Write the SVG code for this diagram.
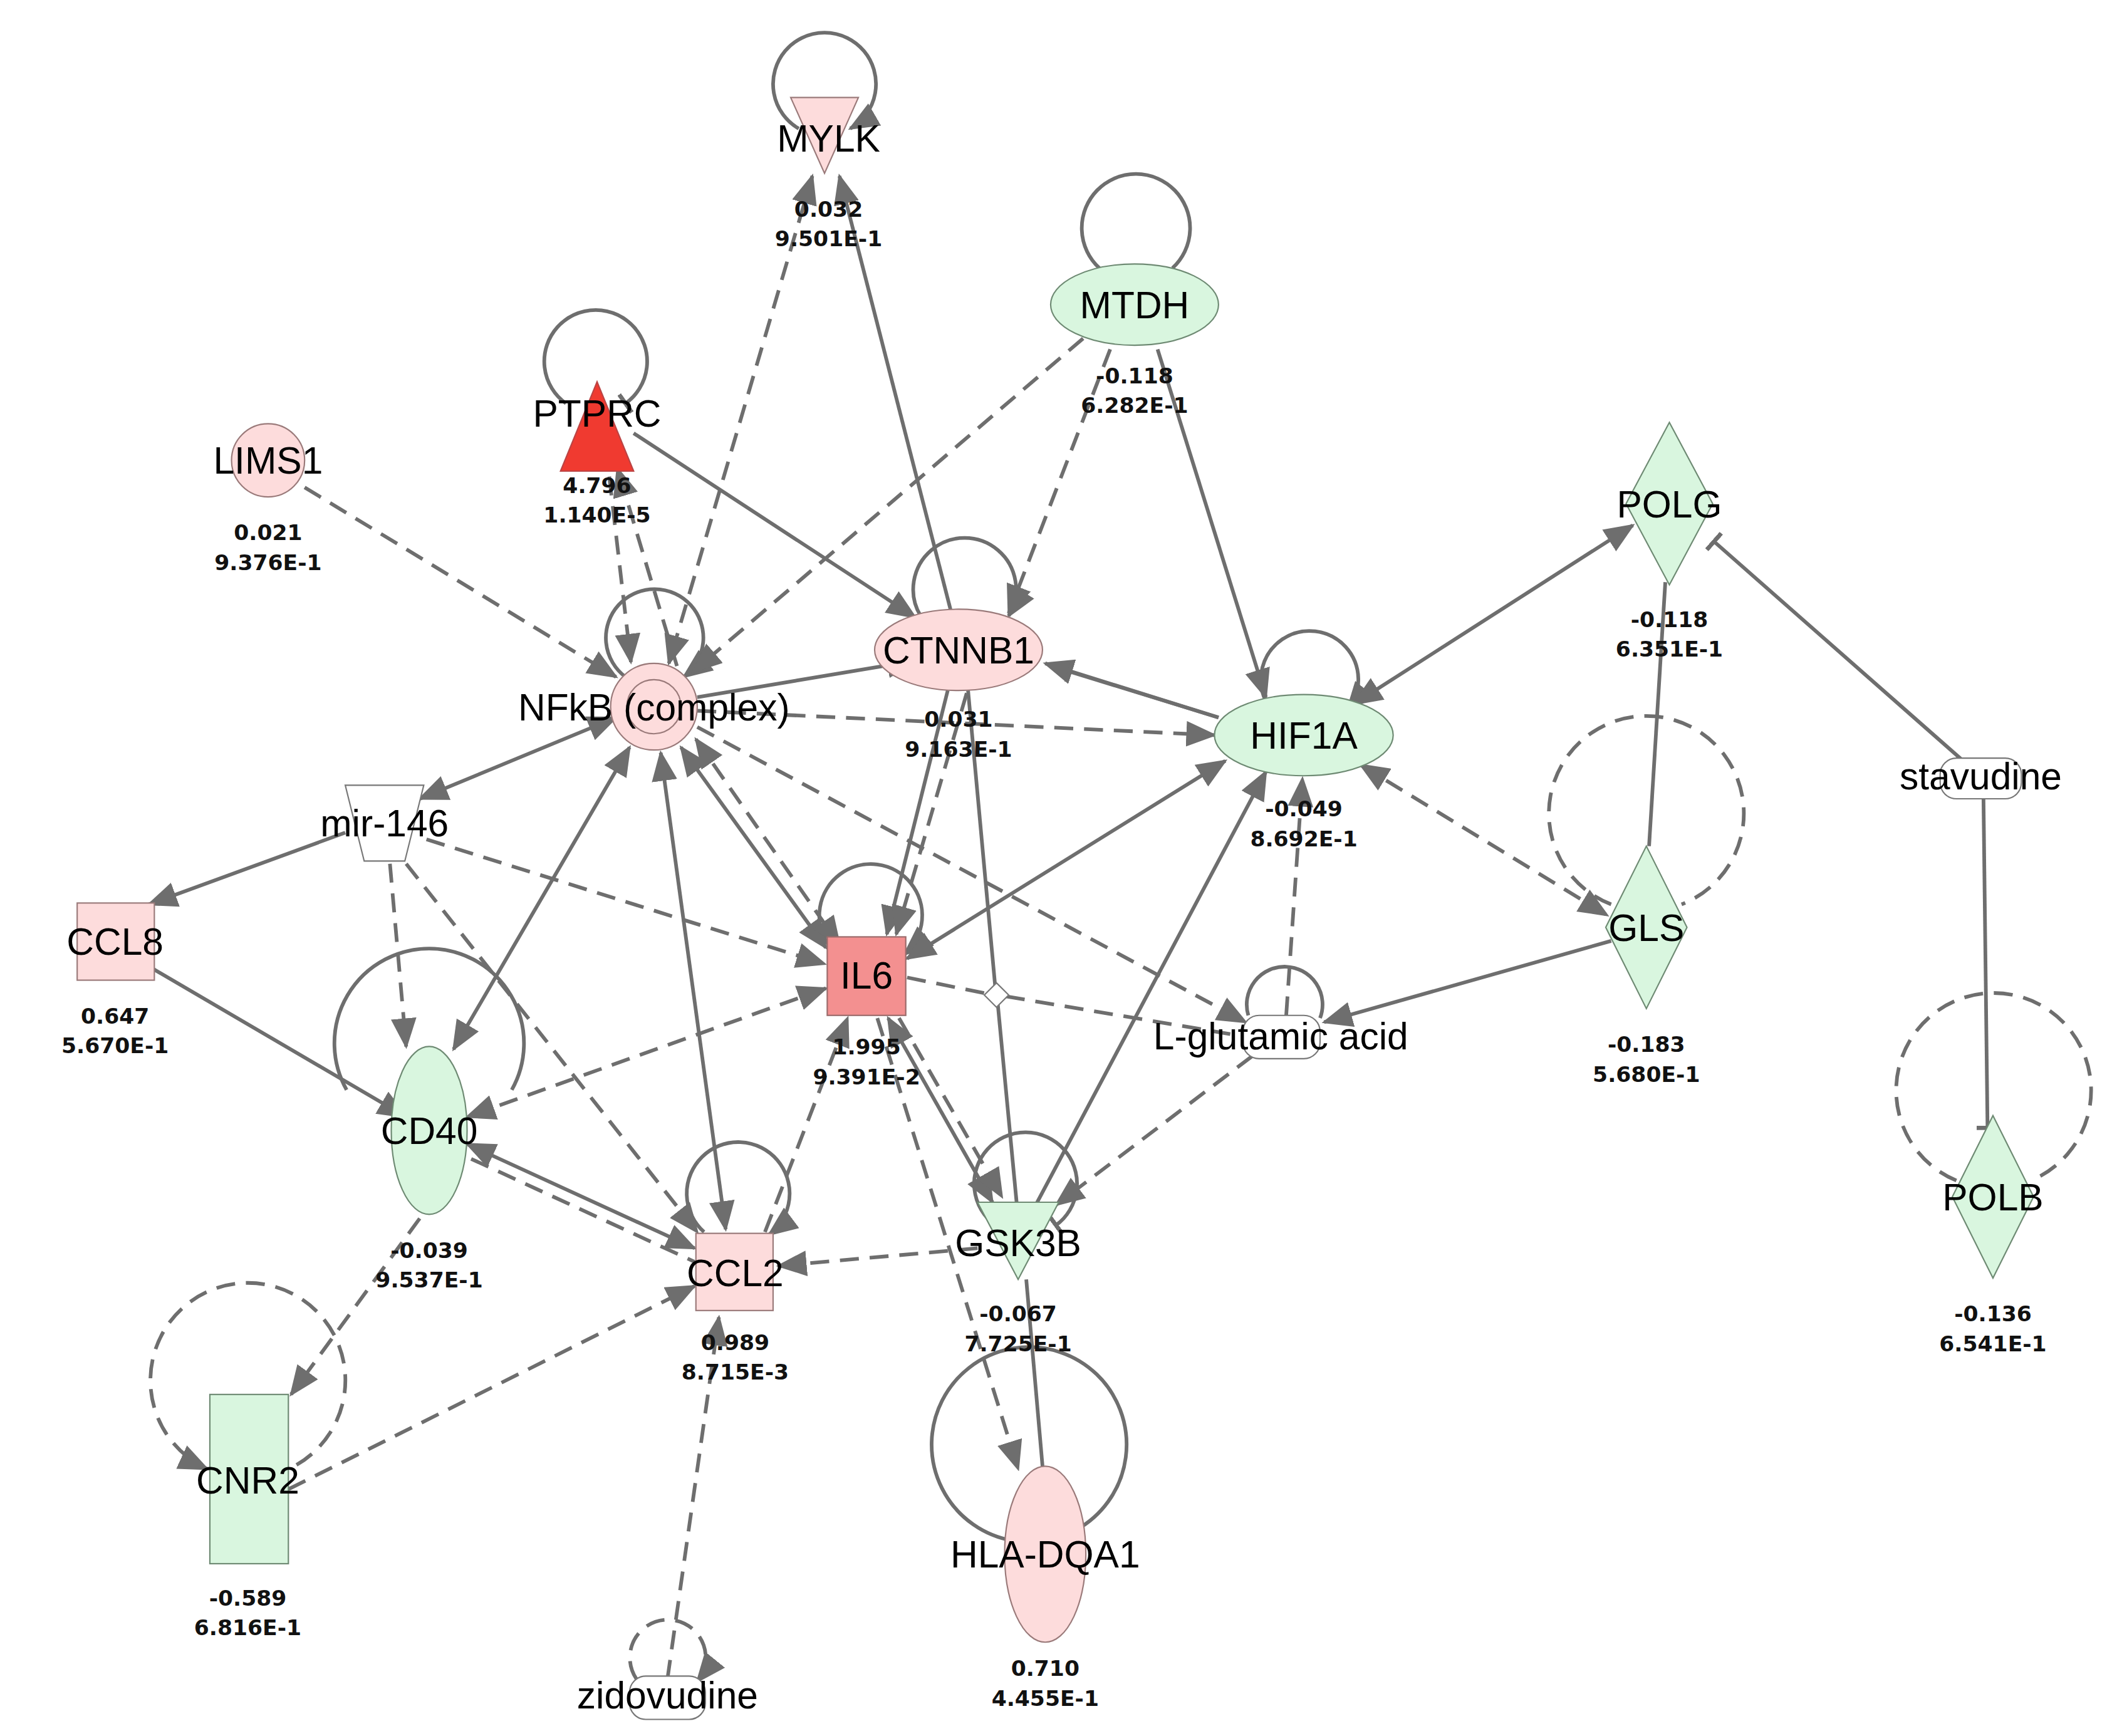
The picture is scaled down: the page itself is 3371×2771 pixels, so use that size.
<svg xmlns="http://www.w3.org/2000/svg" width="3371" height="2771" viewBox="0 0 3371 2771">
<defs>
<marker id="a" viewBox="0 0 12 10" refX="11" refY="5" markerWidth="8.4" markerHeight="7" orient="auto-start-reverse" markerUnits="strokeWidth"><path d="M0,0 L12,5 L0,10 z" fill="#6e6e6e"/></marker>
<marker id="t" viewBox="0 0 2 10" refX="1" refY="5" markerWidth="1.2" markerHeight="6" orient="auto" markerUnits="strokeWidth"><rect x="0" y="0" width="2" height="10" fill="#6e6e6e"/></marker>
</defs>
<style>
.e{fill:none;stroke:#6e6e6e;stroke-width:2.7}
.d{stroke-dasharray:14 8}
.l{font-family:"Liberation Sans",Arial,sans-serif;font-size:28px;text-anchor:middle;fill:#000}
.v{font-family:"DejaVu Sans",sans-serif;font-weight:bold;font-size:16px;text-anchor:middle;fill:#111}
.p{fill:#fddcdc;stroke:#9a7a7a;stroke-width:1}
.g{fill:#d9f6df;stroke:#6e8a73;stroke-width:1}
.w{fill:#fff;stroke:#777;stroke-width:1}
</style>
<rect width="3371" height="2771" fill="#fff"/>
<g transform="scale(2.161)">
<g id="connectors">
<!-- loops -->
<path class="e" marker-end="url(#a)" d="M590,95 A38,38 0 1 1 628,95"/>
<path class="e" d="M812,198 A40,40 0 1 1 866,198"/>
<path class="e" marker-end="url(#t)" d="M418,298 A38,38 0 1 1 462,298"/>
<path class="e" marker-end="url(#a)" d="M462,500 A36,36 0 1 1 505,500"/>
<path class="e" marker-end="url(#a)" d="M680,455 A38,38 0 1 1 745,455"/>
<path class="e" marker-end="url(#a)" d="M935,518 A36,36 0 1 1 995,525"/>
<path class="e d" d="M1190,668 A72,72 0 1 1 1242,668"/>
<path class="e d" d="M1445,872 A72,72 0 1 1 1500,872"/>
<path class="e d" marker-end="url(#a)" d="M219,1082 A72,72 0 1 0 153,1085"/>
<path class="e" marker-end="url(#a)" d="M612,698 A38,38 0 1 1 668,705"/>
<path class="e" d="M922,750 A28,28 0 1 1 975,752"/>
<path class="e" d="M256,805 A70,70 0 1 1 378,805"/>
<path class="e" marker-end="url(#a)" d="M520,910 A38,38 0 1 1 568,912"/>
<path class="e" marker-end="url(#t)" d="M735,905 A38,38 0 1 1 780,905"/>
<path class="e" d="M748,1138 A72,72 0 1 1 795,1130"/>
<path class="e d" marker-end="url(#a)" d="M470,1240 A28,28 0 1 1 515,1242"/>
<!-- edges -->
<line class="e d" marker-end="url(#a)" x1="225" y1="360" x2="455" y2="500"/>
<line class="e d" marker-end="url(#a)" x1="450" y1="352" x2="466" y2="489"/>
<line class="e d" marker-end="url(#a)" x1="500" y1="492" x2="456" y2="346"/>
<line class="e" marker-end="url(#a)" x1="468" y1="320" x2="676" y2="456"/>
<line class="e d" marker-start="url(#a)" marker-end="url(#a)" x1="600" y1="130" x2="494" y2="490"/>
<line class="e" marker-end="url(#a)" x1="702" y1="450" x2="620" y2="130"/>
<line class="e d" marker-end="url(#a)" x1="800" y1="250" x2="512" y2="496"/>
<line class="e d" marker-end="url(#a)" x1="820" y1="258" x2="745" y2="453"/>
<line class="e" marker-end="url(#a)" x1="855" y1="258" x2="935" y2="515"/>
<line class="e" marker-end="url(#a)" x1="515" y1="515" x2="676" y2="488"/>
<line class="e" marker-end="url(#a)" x1="900" y1="530" x2="772" y2="490"/>
<line class="e" marker-end="url(#t)" x1="900" y1="530" x2="790" y2="496"/>
<line class="e d" marker-end="url(#a)" x1="515" y1="525" x2="897" y2="543"/>
<line class="e" marker-start="url(#a)" marker-end="url(#a)" x1="1000" y1="520" x2="1206" y2="388"/>
<line class="e" marker-end="url(#t)" x1="1450" y1="562" x2="1266" y2="400"/>
<line class="e" marker-end="url(#t)" x1="1465" y1="590" x2="1468" y2="833"/>
<line class="e" x1="1230" y1="430" x2="1218" y2="625"/>
<line class="e d" marker-start="url(#a)" marker-end="url(#a)" x1="1005" y1="565" x2="1187" y2="676"/>
<line class="e" marker-end="url(#a)" x1="1190" y1="695" x2="978" y2="755"/>
<line class="e d" marker-end="url(#a)" x1="950" y1="750" x2="962" y2="575"/>
<line class="e d" marker-end="url(#a)" x1="925" y1="780" x2="780" y2="890"/>
<line class="e" marker-start="url(#a)" marker-end="url(#a)" x1="905" y1="562" x2="670" y2="708"/>
<line class="e" marker-end="url(#a)" x1="765" y1="890" x2="935" y2="570"/>
<line class="e d" x1="670" y1="722" x2="729" y2="734"/>
<line class="e d" x1="743" y1="736" x2="916" y2="765"/>
<line class="e" x1="715" y1="510" x2="735" y2="728"/>
<line class="e" x1="737" y1="742" x2="752" y2="900"/>
<line class="e d" marker-end="url(#a)" x1="515" y1="537" x2="920" y2="755"/>
<line class="e" marker-start="url(#a)" marker-end="url(#a)" x1="310" y1="590" x2="455" y2="530"/>
<line class="e" marker-end="url(#a)" x1="255" y1="615" x2="110" y2="668"/>
<line class="e d" marker-end="url(#a)" x1="315" y1="620" x2="609" y2="712"/>
<line class="e d" marker-end="url(#a)" x1="288" y1="638" x2="300" y2="773"/>
<line class="e d" marker-end="url(#a)" x1="300" y1="638" x2="515" y2="910"/>
<line class="e" marker-end="url(#a)" x1="112" y1="715" x2="300" y2="825"/>
<line class="e" marker-start="url(#a)" marker-end="url(#a)" x1="465" y1="552" x2="335" y2="775"/>
<line class="e" marker-start="url(#a)" marker-end="url(#a)" x1="488" y1="556" x2="536" y2="908"/>
<line class="e" marker-start="url(#a)" marker-end="url(#a)" x1="503" y1="552" x2="610" y2="700"/>
<line class="e d" marker-start="url(#a)" marker-end="url(#a)" x1="514" y1="546" x2="620" y2="698"/>
<line class="e" marker-end="url(#a)" x1="700" y1="510" x2="655" y2="690"/>
<line class="e d" marker-end="url(#a)" x1="714" y1="512" x2="662" y2="690"/>
<line class="e d" marker-start="url(#a)" marker-end="url(#a)" x1="610" y1="730" x2="345" y2="825"/>
<line class="e" marker-start="url(#a)" marker-end="url(#a)" x1="345" y1="845" x2="513" y2="922"/>
<line class="e d" x1="348" y1="856" x2="513" y2="932"/>
<line class="e d" marker-end="url(#a)" x1="565" y1="910" x2="626" y2="752"/>
<line class="e" marker-start="url(#a)" marker-end="url(#a)" x1="656" y1="752" x2="733" y2="888"/>
<line class="e d" marker-end="url(#a)" x1="664" y1="752" x2="740" y2="884"/>
<line class="e d" marker-end="url(#a)" x1="648" y1="752" x2="752" y2="1085"/>
<line class="e" x1="758" y1="945" x2="770" y2="1083"/>
<line class="e d" marker-end="url(#a)" x1="722" y1="922" x2="575" y2="935"/>
<line class="e d" marker-end="url(#a)" x1="310" y1="900" x2="215" y2="1030"/>
<line class="e d" marker-end="url(#a)" x1="213" y1="1100" x2="513" y2="950"/>
<line class="e d" marker-end="url(#a)" x1="493" y1="1240" x2="531" y2="973"/>
</g>
<g id="MYLK"><polygon class="p" points="584,72 634,72 609,128"/><text class="l" x="612" y="112">MYLK</text><text class="v" x="612" y="160">0.032</text><text class="v" x="612" y="182">9.501E-1</text></g>
<g id="MTDH"><ellipse class="g" cx="838" cy="225" rx="62" ry="30"/><text class="l" x="838" y="235">MTDH</text><text class="v" x="838" y="283">-0.118</text><text class="v" x="838" y="305">6.282E-1</text></g>
<g id="PTPRC"><polygon points="441,282 468,348 414,348" fill="#f03a30" stroke="#b44" stroke-width="1"/><text class="l" x="441" y="315">PTPRC</text><text class="v" x="441" y="364">4.796</text><text class="v" x="441" y="386">1.140E-5</text></g>
<g id="LIMS1"><circle class="p" cx="198" cy="340" r="27"/><text class="l" x="198" y="350">LIMS1</text><text class="v" x="198" y="399">0.021</text><text class="v" x="198" y="421">9.376E-1</text></g>
<g id="NFkB"><circle class="p" cx="483" cy="522" r="32"/><circle class="p" cx="483" cy="522" r="20"/><text class="l" x="483" y="532">NFkB (complex)</text></g>
<g id="CTNNB1"><ellipse class="p" cx="708" cy="480" rx="62" ry="30"/><text class="l" x="708" y="490">CTNNB1</text><text class="v" x="708" y="537">0.031</text><text class="v" x="708" y="559">9.163E-1</text></g>
<g id="HIF1A"><ellipse class="g" cx="963" cy="543" rx="66" ry="30"/><text class="l" x="963" y="553">HIF1A</text><text class="v" x="963" y="603">-0.049</text><text class="v" x="963" y="625">8.692E-1</text></g>
<g id="POLG"><polygon class="g" points="1233,312 1265,372 1233,432 1201,372"/><text class="l" x="1233" y="382">POLG</text><text class="v" x="1233" y="463">-0.118</text><text class="v" x="1233" y="485">6.351E-1</text></g>
<g id="stavudine"><rect class="w" x="1433" y="560" width="60" height="30" rx="12"/><text class="l" x="1463" y="583">stavudine</text></g>
<g id="GLS"><polygon class="g" points="1216,625 1246,685 1216,745 1186,685"/><text class="l" x="1216" y="695">GLS</text><text class="v" x="1216" y="777">-0.183</text><text class="v" x="1216" y="799">5.680E-1</text></g>
<g id="mir-146"><polygon class="w" points="255,580 313,580 299,636 269,636"/><text class="l" x="284" y="618">mir-146</text></g>
<g id="CCL8"><rect class="p" x="57" y="667" width="57" height="57"/><text class="l" x="85" y="705">CCL8</text><text class="v" x="85" y="756">0.647</text><text class="v" x="85" y="778">5.670E-1</text></g>
<g id="IL6"><rect x="611" y="692" width="58" height="58" fill="#f39090" stroke="#9a6a6a" stroke-width="1"/><text class="l" x="640" y="730">IL6</text><text class="v" x="640" y="779">1.995</text><text class="v" x="640" y="801">9.391E-2</text></g>
<g id="junction"><polygon class="w" points="736,726 745,735 736,744 727,735"/></g>
<g id="L-glutamic"><rect class="w" x="918" y="750" width="57" height="32" rx="12"/><text class="l" x="946" y="775">L-glutamic acid</text></g>
<g id="CD40"><ellipse class="g" cx="317" cy="835" rx="28" ry="62"/><text class="l" x="317" y="845">CD40</text><text class="v" x="317" y="929">-0.039</text><text class="v" x="317" y="951">9.537E-1</text></g>
<g id="CCL2"><rect class="p" x="514" y="911" width="57" height="57"/><text class="l" x="543" y="950">CCL2</text><text class="v" x="543" y="997">0.989</text><text class="v" x="543" y="1019">8.715E-3</text></g>
<g id="GSK3B"><polygon class="g" points="722,888 782,888 752,945"/><text class="l" x="752" y="928">GSK3B</text><text class="v" x="752" y="976">-0.067</text><text class="v" x="752" y="998">7.725E-1</text></g>
<g id="POLB"><polygon class="g" points="1472,824 1502,884 1472,944 1442,884"/><text class="l" x="1472" y="894">POLB</text><text class="v" x="1472" y="976">-0.136</text><text class="v" x="1472" y="998">6.541E-1</text></g>
<g id="CNR2"><rect class="g" x="155" y="1030" width="58" height="125"/><text class="l" x="183" y="1103">CNR2</text><text class="v" x="183" y="1186">-0.589</text><text class="v" x="183" y="1208">6.816E-1</text></g>
<g id="HLA-DQA1"><ellipse class="p" cx="772" cy="1148" rx="30" ry="65"/><text class="l" x="772" y="1158">HLA-DQA1</text><text class="v" x="772" y="1238">0.710</text><text class="v" x="772" y="1260">4.455E-1</text></g>
<g id="zidovudine"><rect class="w" x="465" y="1238" width="56" height="32" rx="12"/><text class="l" x="493" y="1262">zidovudine</text></g>
</g>
</svg>
